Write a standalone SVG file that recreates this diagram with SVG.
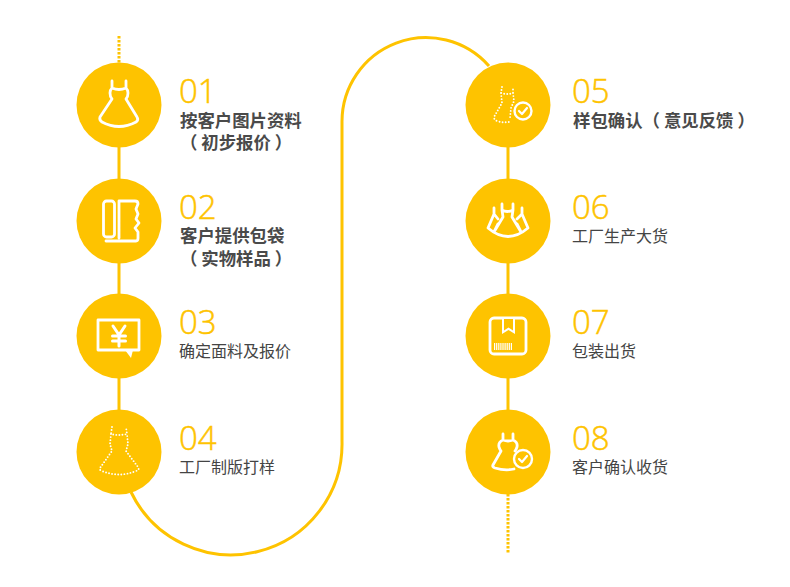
<svg xmlns="http://www.w3.org/2000/svg" width="790" height="587" viewBox="0 0 790 587">
<style>
.c{fill:#fec300}
.l{fill:none;stroke:#fec300;stroke-width:3}
.d{fill:none;stroke:#fec300;stroke-width:3;stroke-dasharray:2.5 1.5}
.n{font-family:"Open Sans","Noto Sans",sans-serif;font-weight:300;font-size:33px;fill:#fec300;stroke:#fec300;stroke-width:.5}
.t{font-family:"Noto Sans CJK SC",sans-serif;font-size:16px;fill:#444}
.b{font-weight:700;font-size:17.4px;fill:#4a4a4a}
.i{fill:none;stroke:#fff;stroke-width:2.8;stroke-linejoin:round;stroke-linecap:round}
.p{fill:none;stroke:#fff;stroke-width:1.9;stroke-dasharray:0 3.1;stroke-linecap:round}
.w{fill:#fff}
</style>
<g id="connectors">
<path class="d" d="M119 36V63"/>
<path class="l" d="M119 147V410"/>
<path class="l" d="M131 492A111 111 0 0 0 342 441V122A84 84 0 0 1 489 66"/>
<path class="l" d="M508 147V410"/>
<path class="d" d="M508 494V553"/>
</g>
<g id="node1"><circle class="c" cx="119" cy="105" r="42.5"/>
<path class="i" d="M112 81V88Q110 90 110 93Q110 97 112 99L100 117Q99 120 102 122Q119 131 136 122Q139 120 137 117L126 99Q128 97 128 93Q128 90 126 88V81M112 88Q119 91 126 88"/>
<text class="n" x="179" y="103">01</text><text class="t b" x="180" y="127">按客户图片资料</text><text class="t b" x="180" y="149" xml:space="preserve">（ 初步报价 ）</text></g>
<g id="node2"><circle class="c" cx="119" cy="221" r="42.5"/>
<rect class="i" x="103.500" y="201" width="11" height="36" rx="3"/>
<path class="i" d="M106 241H136Q138 241 138 238V232L135 228L139 223L136 219L138 214L136 209L138 204Q138 201 135 201H119V238"/>
<text class="n" x="179" y="219">02</text><text class="t b" x="180" y="242">客户提供包袋</text><text class="t b" x="180" y="265" xml:space="preserve">（ 实物样品 ）</text></g>
<g id="node3"><circle class="c" cx="119" cy="336" r="42.5"/>
<path class="i" d="M98 320H139V350H98Z"/>
<path class="w" d="M125 350H133L131 358Z"/>
<path class="i" style="stroke-width:3" d="M113 326L119 335L125 326M119 335V346M112.500 336H125.500M112.500 341H125.500"/>
<text class="n" x="179" y="334">03</text><text class="t" x="179" y="357">确定面料及报价</text></g>
<g id="node4"><circle class="c" cx="119" cy="452" r="42.5"/>
<path class="p" d="M112 427L111 434Q119 436 127 434L126 427M111 434L110 444L112 451L100 468Q99 470 102 471Q119 478 136 471Q140 470 138 467L126 451L128 444L127 434"/>
<text class="n" x="179" y="450">04</text><text class="t" x="179" y="473">工厂制版打样</text></g>
<g id="node5"><circle class="c" cx="508" cy="105" r="42.5"/>
<path class="p" d="M502 87L501 93Q507 95 513 93L513 87M513 93L514 101L511 108L510 118M501 93L502 103L494 117Q494 120 497 121Q503 123 509 122"/>
<circle cx="523" cy="111" r="8.500" fill="#fec300" stroke="#fff" stroke-width="2.400"/><path class="i" style="stroke-width:2.200" d="M519 111L522 114L527 108"/>
<text class="n" x="572" y="103">05</text><text class="t b" x="573" y="127" xml:space="preserve">样包确认（ 意见反馈 ）</text></g>
<g id="node6"><circle class="c" cx="508" cy="221" r="42.5"/>
<path class="i" d="M502 204V210Q507 213 513 210V204M502 210L503 217L494 232M513 210L512 217L521 232M494 208V214L498 219M522 208V214L517 219M494 214L488 228Q508 245 528 228L522 214M498 224L494 232M517 224L521 232"/>
<text class="n" x="572" y="219">06</text><text class="t" x="572" y="242">工厂生产大货</text></g>
<g id="node7"><circle class="c" cx="508" cy="336" r="42.5"/>
<rect class="i" x="490" y="318" width="36" height="36" rx="4"/>
<path class="w" d="M502 318H515V334L508.500 330L502 334Z"/>
<path d="M504 319H513V330.500L508.500 327.500L504 330.500Z" fill="#fec300"/>
<path d="M494 346.500H512" stroke="#fff" stroke-width="7" stroke-dasharray="1.200 .9"/>
<text class="n" x="572" y="334">07</text><text class="t" x="572" y="357">包装出货</text></g>
<g id="node8"><circle class="c" cx="508" cy="452" r="42.5"/>
<path class="i" d="M503 434V440Q498 442 499 447Q500 450 501 451L493 465Q492 467 495 468Q505 471 514 469M513 434V440Q518 442 517 447Q516 450 515 451M503 440Q508 442 513 440"/>
<circle cx="523" cy="459" r="9" fill="#fec300" stroke="#fff" stroke-width="2.400"/><path class="i" style="stroke-width:2.200" d="M519 459L522 462L527 456"/>
<text class="n" x="572" y="450">08</text><text class="t" x="572" y="473">客户确认收货</text></g>
</svg>
